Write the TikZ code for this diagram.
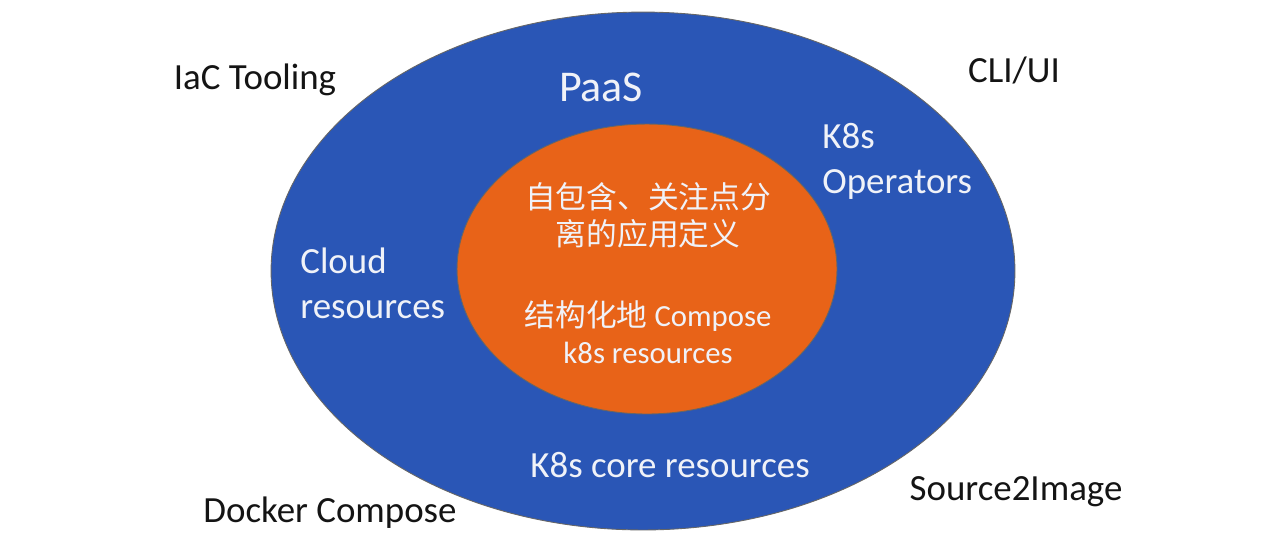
\documentclass[tikz,border=0pt]{standalone}
\usepackage{fontspec}
\usetikzlibrary{shapes.geometric}
\setmainfont{Carlito}
\newfontfamily\cjk{Noto Sans CJK SC}
\definecolor{outerblue}{RGB}{42,86,182}
\definecolor{innerorange}{RGB}{232,99,24}
\definecolor{txtwhite}{RGB}{240,242,248}
\definecolor{txtblack}{RGB}{20,20,20}
\begin{document}
\begin{tikzpicture}[x=0.02cm,y=-0.02cm,
  lbl/.style={font=\fontsize{21}{25.5}\selectfont, inner sep=0pt},
  outlbl/.style={lbl, text=txtblack},
  inlbl/.style={lbl, text=txtwhite},
  corelbl/.style={font=\fontsize{17.5}{21}\selectfont, inner sep=0pt, text=txtwhite, align=center},
  ring/.style={draw=black!60, line width=0.5pt, ellipse, inner sep=0pt}]
\useasboundingbox (0,0) rectangle (1280,549);
\fill[white] (0,0) rectangle (1280,549);
\node[ring, fill=outerblue, minimum width=14.88cm, minimum height=10.36cm] (outer) at (643,271) {};
\node[ring, fill=innerorange, minimum width=7.6cm, minimum height=5.8cm] (inner) at (647,269) {};
\node[inlbl, font=\fontsize{25}{30}\selectfont] (paas) at (601,87) {PaaS};
\node[inlbl, align=left, anchor=west] (ops) at (822,161) {K8s\\Operators};
\node[inlbl, align=left, anchor=west] (cloud) at (300,283) {Cloud\\resources};
\node[inlbl] (core) at (670,465) {K8s core resources};
\node[corelbl] (def) at (648,215) {\cjk 自包含、关注点分\\\cjk 离的应用定义};
\node[corelbl] (comp) at (648,332) {{\cjk 结构化地} Compose\\k8s resources};
\node[outlbl] (iac) at (255,80) {IaC Tooling};
\node[outlbl] (cli) at (1014,70) {CLI/UI};
\node[outlbl] (s2i) at (1016,492) {Source2Image};
\node[outlbl] (dc) at (330,513) {Docker Compose};
\end{tikzpicture}
\end{document}
